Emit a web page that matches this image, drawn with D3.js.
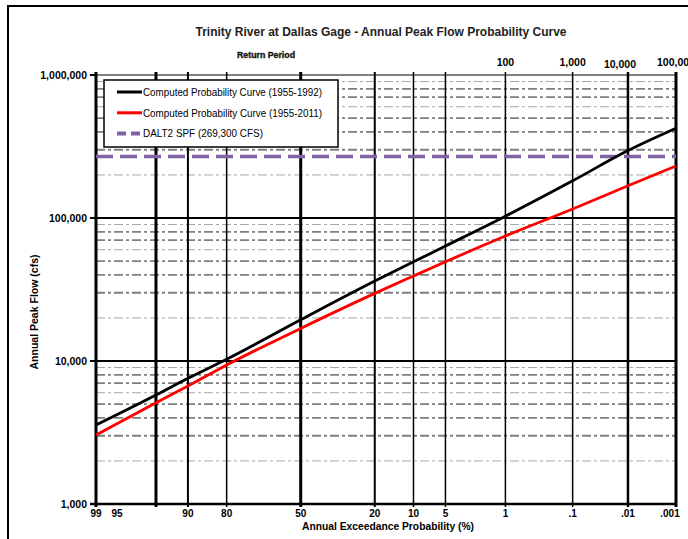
<!DOCTYPE html>
<html>
<head>
<meta charset="utf-8">
<script src="https://cdn.jsdelivr.net/npm/d3@7"></script>
<style>
  body { margin: 0; background: #fff; }
  svg text { font-family: "Liberation Sans Narrow", "Liberation Sans", Arial, sans-serif; }
</style>
</head>
<body>
<div id="chart"></div>
<script>
// Årliga toppflöden, sannolikhetspapper (normal x-axel, log y-axel)

const probabilities = [99, 95, 90, 80, 50, 20, 10, 5, 1, 0.1, 0.01, 0.001];
const probLabels = ["99", "95", "90", "80", "50", "20", "10", "5", "1", ".1", ".01", ".001"];

const returnPeriodProbs = [1, 0.1, 0.01, 0.001];
const returnPeriodLabels = ["100", "1,000", "10,000", "100,000"];

const flowTicks = [1000, 10000, 100000, 1000000];
const flowTickLabels = ["1,000", "10,000", "100,000", "1,000,000"];

const curve1955to1992 = [3565, 5780, 7570, 10280, 19400, 36200, 49400, 63700, 103000, 182000, 296000, 424000];
const curve1955to2011 = [3040, 5100, 6680, 9380, 16900, 29700, 39300, 49400, 74800, 115600, 168000, 231000];
const spfFlow = 269300;

const legendLabels = [
    "Computed Probability Curve (1955-1992)",
    "Computed Probability Curve (1955-2011)",
    "DALT2 SPF (269,300 CFS)"
];


// inverse normal (Acklam)
function normInv(p) {
    const a = [-3.969683028665376e+01, 2.209460984245205e+02, -2.759285104469687e+02, 1.383577518672690e+02, -3.066479806614716e+01, 2.506628277459239e+00];
    const b = [-5.447609879822406e+01, 1.615858368580409e+02, -1.556989798598866e+02, 6.680131188771972e+01, -1.328068155288572e+01];
    const c = [-7.784894002430293e-03, -3.223964580411365e-01, -2.400758277161838e+00, -2.549671234276960e+00, 4.374664141464968e+00, 2.938163982698783e+00];
    const d = [7.784695709041462e-03, 3.224671290700398e-01, 2.445134137142996e+00, 3.754408661907416e+00];
    const pl = 0.02425;
    let q, r;
    if (p < pl) {
        q = Math.sqrt(-2 * Math.log(p));
        return (((((c[0]*q+c[1])*q+c[2])*q+c[3])*q+c[4])*q+c[5]) / ((((d[0]*q+d[1])*q+d[2])*q+d[3])*q+1);
    } else if (p <= 1 - pl) {
        q = p - 0.5; r = q * q;
        return (((((a[0]*r+a[1])*r+a[2])*r+a[3])*r+a[4])*r+a[5])*q / (((((b[0]*r+b[1])*r+b[2])*r+b[3])*r+b[4])*r+1);
    }
    q = Math.sqrt(-2 * Math.log(1 - p));
    return -(((((c[0]*q+c[1])*q+c[2])*q+c[3])*q+c[4])*q+c[5]) / ((((d[0]*q+d[1])*q+d[2])*q+d[3])*q+1);
}

// exceedance % -> z
const zOf = p => -normInv(p / 100);


const W = 688, H = 539;
const plotLeft = 96, plotRight = 676, plotTop = 75, plotBottom = 504;

const svg = d3.select("#chart").append("svg")
    .attr("width", W)
    .attr("height", H)
    .attr("viewBox", `0 0 ${W} ${H}`);

// yttre ram
svg.append("rect")
    .attr("x", 8).attr("y", 6)
    .attr("width", 720).attr("height", 620)
    .attr("fill", "#fff")
    .attr("stroke", "#000")
    .attr("stroke-width", 2);

const zScale = d3.scaleLinear([zOf(99), zOf(0.001)], [plotLeft, plotRight]);
const x = p => zScale(zOf(p));
const y = d3.scaleLog([1000, 1000000], [plotBottom, plotTop]);


// minor horisontella linjer
const minorFlows = [];
for (let dec = 1000; dec < 1000000; dec *= 10) {
    for (let m = 2; m <= 9; m++) minorFlows.push(m * dec);
}
const lightMinor = new Set([2, 6, 9]);
const mantissa = d => Math.round(d / Math.pow(10, Math.floor(Math.log10(d) + 1e-9)));

svg.append("g").selectAll("line")
    .data(minorFlows)
    .join("line")
    .attr("x1", plotLeft).attr("x2", plotRight)
    .attr("y1", d => y(d)).attr("y2", d => y(d))
    .attr("stroke", d => lightMinor.has(mantissa(d)) ? "#a6a6a6" : "#7f7f7f")
    .attr("stroke-width", d => lightMinor.has(mantissa(d)) ? 1 : 1.8)
    .attr("stroke-dasharray", "9,3,3,3");

// stora horisontella linjer
svg.append("g").selectAll("line")
    .data([10000, 100000])
    .join("line")
    .attr("x1", plotLeft).attr("x2", plotRight)
    .attr("y1", d => y(d)).attr("y2", d => y(d))
    .attr("stroke", "#000")
    .attr("stroke-width", 2);

svg.append("line")
    .attr("x1", plotLeft).attr("x2", plotRight)
    .attr("y1", y(1000000)).attr("y2", y(1000000))
    .attr("stroke", "#808080")
    .attr("stroke-width", 2);

// vertikala linjer
const heavy = { 99: 3, 95: 3, 90: 2, 50: 3, 20: 2, 0.01: 2.5, 0.001: 3 };
svg.append("g").selectAll("line")
    .data(probabilities)
    .join("line")
    .attr("x1", d => x(d)).attr("x2", d => x(d))
    .attr("y1", plotTop - 3).attr("y2", plotBottom + 3)
    .attr("stroke", "#000")
    .attr("stroke-width", d => heavy[d] || 1.5);

svg.append("line")
    .attr("x1", plotLeft - 6).attr("x2", plotRight)
    .attr("y1", y(1000)).attr("y2", y(1000))
    .attr("stroke", "#000")
    .attr("stroke-width", 2.5);

// y-axel
const yAxis = svg.append("g");
yAxis.selectAll("line")
    .data(flowTicks)
    .join("line")
    .attr("x1", plotLeft - 6).attr("x2", plotLeft)
    .attr("y1", d => y(d)).attr("y2", d => y(d))
    .attr("stroke", "#000")
    .attr("stroke-width", 2);
yAxis.selectAll("text")
    .data(flowTicks)
    .join("text")
    .attr("x", plotLeft - 9)
    .attr("y", d => y(d) + 3.5)
    .attr("text-anchor", "end")
    .attr("font-size", 10.5)
    .attr("font-weight", "bold")
    .text((d, i) => flowTickLabels[i]);

svg.append("text")
    .attr("transform", `translate(38, 312) rotate(-90)`)
    .attr("text-anchor", "middle")
    .attr("font-size", 10.5)
    .attr("font-weight", "bold")
    .text("Annual Peak Flow (cfs)");

// x-etiketter nedtill
const labelShift = { 95: -39, 0.001: -6 };
svg.append("g").selectAll("text")
    .data(probabilities)
    .join("text")
    .attr("x", d => x(d) + (labelShift[d] || 0))
    .attr("y", 517)
    .attr("text-anchor", "middle")
    .attr("font-size", 10)
    .attr("font-weight", "bold")
    .text((d, i) => probLabels[i]);

svg.append("text")
    .attr("x", 388).attr("y", 530)
    .attr("text-anchor", "middle")
    .attr("font-size", 10)
    .attr("font-weight", "bold")
    .attr("textLength", 172)
    .attr("lengthAdjust", "spacingAndGlyphs")
    .text("Annual Exceedance Probability (%)");

// återkomsttid upptill
const rpShift = { 0.01: -8 };
svg.append("g").selectAll("text")
    .data(returnPeriodProbs)
    .join("text")
    .attr("x", d => x(d) + (rpShift[d] || 0))
    .attr("y", d => d === 0.01 ? 68 : 66)
    .attr("text-anchor", "middle")
    .attr("font-size", 10.5)
    .attr("font-weight", "bold")
    .text((d, i) => returnPeriodLabels[i]);

svg.append("text")
    .attr("x", 266).attr("y", 58)
    .attr("text-anchor", "middle")
    .attr("font-size", 8.5)
    .attr("font-weight", "bold")
    .attr("stroke", "#333")
    .attr("stroke-width", 0.4)
    .attr("textLength", 58)
    .attr("lengthAdjust", "spacingAndGlyphs")
    .text("Return Period");

svg.append("text")
    .attr("x", 381).attr("y", 36)
    .attr("text-anchor", "middle")
    .attr("font-size", 12)
    .attr("font-weight", "bold")
    .attr("fill", "#222")
    .text("Trinity River at Dallas Gage - Annual Peak Flow Probability Curve");


// SPF-linje
svg.append("line")
    .attr("x1", plotLeft).attr("x2", plotRight)
    .attr("y1", y(spfFlow)).attr("y2", y(spfFlow))
    .attr("stroke", "#8064a2")
    .attr("stroke-width", 3.5)
    .attr("stroke-dasharray", "17,7");

// kurvorna
const line = d3.line()
    .x((d, i) => x(probabilities[i]))
    .y(d => y(d))
    .curve(d3.curveMonotoneX);

svg.append("path")
    .datum(curve1955to2011)
    .attr("d", line)
    .attr("fill", "none")
    .attr("stroke", "#ff0000")
    .attr("stroke-width", 2.8);

svg.append("path")
    .datum(curve1955to1992)
    .attr("d", line)
    .attr("fill", "none")
    .attr("stroke", "#000")
    .attr("stroke-width", 2.8);


// legend
const legend = svg.append("g");
legend.append("rect")
    .attr("x", 104).attr("y", 80)
    .attr("width", 234).attr("height", 67)
    .attr("fill", "#fff")
    .attr("stroke", "#000")
    .attr("stroke-width", 1.5);

const legendStyles = [
    { stroke: "#000", width: 3, dash: null, len: 179 },
    { stroke: "#ff0000", width: 3, dash: null, len: 179 },
    { stroke: "#8064a2", width: 4, dash: "9,5", len: 120 }
];

legendLabels.forEach((label, i) => {
    const ly = 92 + i * 20.8;
    const st = legendStyles[i];
    legend.append("line")
        .attr("x1", 117).attr("x2", 142)
        .attr("y1", ly).attr("y2", ly)
        .attr("stroke", st.stroke)
        .attr("stroke-width", st.width)
        .attr("stroke-dasharray", st.dash);
    legend.append("text")
        .attr("x", 143).attr("y", ly + 3.8)
        .attr("font-size", 11)
        .attr("textLength", st.len)
        .attr("lengthAdjust", "spacingAndGlyphs")
        .text(label);
});
</script>
</body>
</html>
